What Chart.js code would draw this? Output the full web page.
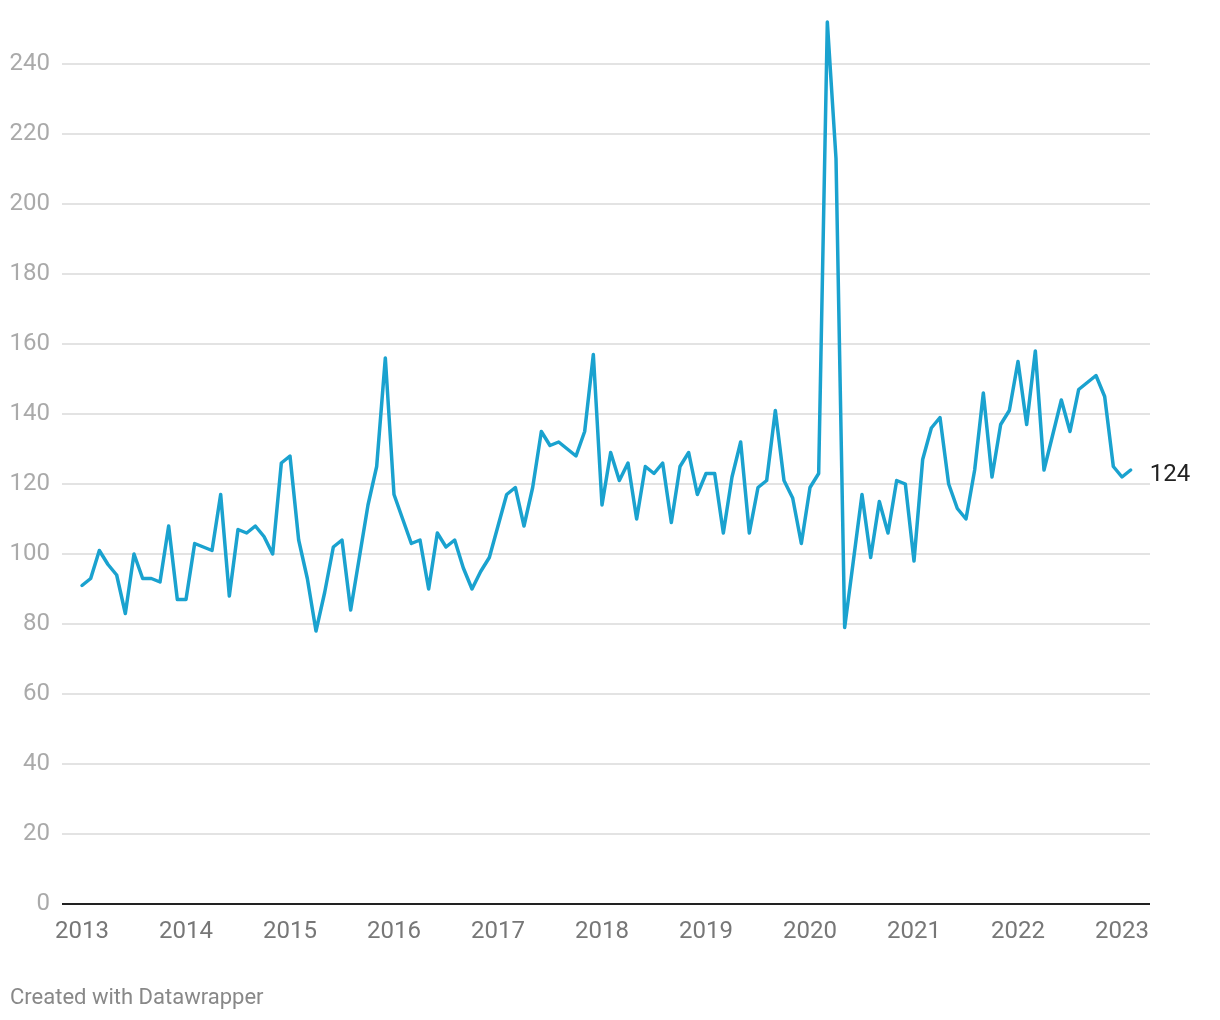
<!DOCTYPE html>
<html>
<head>
<meta charset="utf-8">
<script src="https://cdn.jsdelivr.net/npm/chart.js@4.4.1/dist/chart.umd.min.js"></script>
<style>
    html, body { margin: 0; padding: 0; background: #fff; }
    #wrap { position: relative; width: 1220px; height: 1020px; }
</style>
</head>
<body>
<div id="wrap"><canvas id="chart"></canvas></div>
<script>
// monthly values, one array per year (Jan..Dec)
const v2013 = [91, 93, 101, 97, 94, 83, 100, 93, 93, 92, 108, 87];
const v2014 = [87, 103, 102, 101, 117, 88, 107, 106, 108, 105, 100, 126];
const v2015 = [128, 104, 93, 78, 89, 102, 104, 84, 99, 114, 125, 156];
const v2016 = [117, 110, 103, 104, 90, 106, 102, 104, 96, 90, 95, 99];
const v2017 = [108, 117, 119, 108, 119, 135, 131, 132, 130, 128, 135, 157];
const v2018 = [114, 129, 121, 126, 110, 125, 123, 126, 109, 125, 129, 117];
const v2019 = [123, 123, 106, 122, 132, 106, 119, 121, 141, 121, 116, 103];
const v2020 = [119, 123, 252, 213, 79, 98, 117, 99, 115, 106, 121, 120];
const v2021 = [98, 127, 136, 139, 120, 113, 110, 124, 146, 122, 137, 141];
const v2022 = [155, 137, 158, 124, 134, 144, 135, 147, 149, 151, 145, 125];
const v2023 = [122, 124];

const years = [2013, 2014, 2015, 2016, 2017, 2018, 2019, 2020, 2021, 2022, 2023];
const yearValues = [v2013, v2014, v2015, v2016, v2017, v2018, v2019, v2020, v2021, v2022, v2023];
const yTicks = [0, 20, 40, 60, 80, 100, 120, 140, 160, 180, 200, 220, 240];

const lineColor = "#1aa2cf";

// x = year + month/12
const points = [];
years.forEach((yr, i) => {
    yearValues[i].forEach((v, m) => points.push({ x: yr + m / 12, y: v }));
});

const endLabel = {
    id: "endLabel",
    afterDatasetsDraw(chart) {
        const meta = chart.getDatasetMeta(0);
        const last = meta.data[meta.data.length - 1];
        const ctx = chart.ctx;
        ctx.save();
        ctx.font = "24px Roboto";
        ctx.fillStyle = "#222";
        ctx.textAlign = "left";
        ctx.textBaseline = "middle";
        ctx.fillText(String(points[points.length - 1].y), last.x + 19, last.y + 5);
        ctx.restore();
    },
};

const footer = {
    id: "footer",
    afterDraw(chart) {
        const ctx = chart.ctx;
        ctx.save();
        ctx.font = "22px Roboto";
        ctx.fillStyle = "#888";
        ctx.textAlign = "left";
        ctx.textBaseline = "alphabetic";
        ctx.fillText("Created with Datawrapper", 10, 1004);
        ctx.restore();
    },
};

new Chart(document.getElementById("chart"), {
    type: "line",
    data: {
        datasets: [
            {
                data: points,
                borderColor: lineColor,
                borderWidth: 3.5,
                borderJoinStyle: "round",
                borderCapStyle: "round",
                pointRadius: 0,
                tension: 0,
                fill: false,
                clip: false,
            },
        ],
    },
    options: {
        responsive: true,
        maintainAspectRatio: false,
        animation: false,
        layout: { padding: { top: 22, right: 70, bottom: 0, left: 0 } },
        plugins: {
            legend: { display: false },
            tooltip: { enabled: false },
        },
        scales: {
            x: {
                type: "linear",
                min: 2013 - 20 / 104,
                max: 2023 + 28 / 104,
                afterBuildTicks: (scale) => {
                    scale.ticks = years.map((y) => ({ value: y }));
                },
                afterFit: (scale) => {
                    scale.height = 116;
                },
                grid: { display: false },
                border: { display: false },
                ticks: {
                    padding: 6,
                    color: "#777",
                    font: { family: "Roboto", size: 24 },
                    maxRotation: 0,
                    autoSkip: false,
                    callback: (v) => String(v),
                },
            },
            y: {
                min: 0,
                max: 252,
                afterBuildTicks: (scale) => {
                    scale.ticks = yTicks.map((v) => ({ value: v }));
                },
                afterFit: (scale) => {
                    scale.width = 62;
                    scale.paddingTop = 0; // top tick sits below the chart edge, no label room needed
                },
                border: { display: false },
                grid: {
                    drawTicks: false,
                    color: (c) => (c.tick && c.tick.value === 0 ? "#222" : "#e3e3e3"),
                    lineWidth: 2,
                },
                ticks: {
                    padding: 12,
                    color: "#aaa",
                    font: { family: "Roboto", size: 24 },
                },
            },
        },
    },
    plugins: [endLabel, footer],
});
</script>
</body>
</html>
